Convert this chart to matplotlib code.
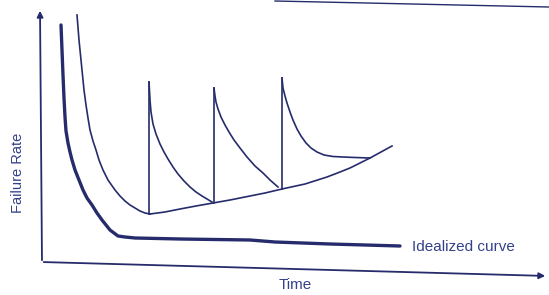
import matplotlib
matplotlib.use("Agg")
from matplotlib import pyplot as plt

# values (time runs left to right, rate grows downward on the page)
ideal_time = [61, 62, 63, 64, 65, 66, 68, 70, 72, 75, 79, 83, 87, 92, 97, 102, 106, 110, 114,
              118, 125, 135, 180, 250, 275, 330, 400]
ideal_rate = [25, 50, 75, 98, 117, 131, 143, 152, 160, 170, 180, 190, 198, 205, 213, 220, 225, 230, 233,
              236, 237, 238, 239, 240, 242, 244, 246]

early_time = [77, 79, 82, 84, 86, 88, 90, 93, 96, 99, 103, 108, 115, 120, 125, 130, 135, 140, 145, 150]
early_rate = [15, 40, 70, 90, 105, 118, 130, 141, 150, 160, 170, 180, 190, 196, 201, 205, 208, 211, 213, 214]

wear_time = [150, 165, 180, 196, 213, 230, 250, 265, 282, 305, 327, 340, 350, 360, 370, 381, 392]
wear_rate = [214, 212, 209, 206, 203, 200, 196, 193, 189, 184, 177, 172, 168, 163, 158, 152, 146]

spike_time = [149, 214, 282]
spike_base = [214, 203, 189]
spike_top = [82, 88, 78]

decay_time = [
    [149, 150, 151, 153, 156, 160, 164, 168, 173, 178, 184, 190, 196, 202, 207, 212],
    [214, 215, 216, 218, 221, 225, 229, 234, 240, 247, 255, 263, 270, 278],
    [282, 283, 285, 287, 290, 293, 297, 301, 306, 311, 317, 324, 333, 343, 355, 370],
]
decay_rate = [
    [82, 100, 112, 124, 134, 144, 152, 159, 167, 174, 181, 187, 192, 196, 199, 202],
    [88, 96, 102, 109, 117, 125, 132, 140, 148, 157, 166, 173, 180, 187],
    [78, 88, 96, 103, 112, 120, 129, 136, 143, 148, 152, 155, 156.5, 157, 157.5, 158],
]

ink = "#262c6b"
text_ink = "#34418a"

fig = plt.figure(figsize=(5.49, 2.95), dpi=100)
ax = fig.add_axes([0, 0, 1, 1])
ax.set_xlim(0, 549)
ax.set_ylim(295, 0)
ax.axis("off")

# axes with arrow heads
ax.annotate("", xy=(40, 8), xytext=(42, 263),
            arrowprops=dict(arrowstyle="-|>", color=ink, lw=1.3, mutation_scale=9))
ax.annotate("", xy=(548, 276), xytext=(41, 262),
            arrowprops=dict(arrowstyle="-|>", color=ink, lw=1.3, mutation_scale=9))

# page edge from the scan
ax.plot([275, 549], [1, 7], color=ink, lw=1.0)

# idealized curve
ax.plot(ideal_time, ideal_rate, color=ink, lw=2.4, solid_capstyle="round", solid_joinstyle="round")

# actual curve
kw = dict(color=ink, lw=1.2, solid_joinstyle="round")
ax.plot(early_time, early_rate, **kw)
ax.plot(wear_time, wear_rate, **kw)
for t, b, top in zip(spike_time, spike_base, spike_top):
    ax.plot([t, t], [b, top], **kw)
for dt, dr in zip(decay_time, decay_rate):
    ax.plot(dt, dr, **kw)

ax.text(412, 247, "Idealized curve", fontsize=11, family="Liberation Sans",
        color=text_ink, va="center", ha="left")
ax.text(295, 285, "Time", fontsize=11, family="Liberation Sans",
        color=text_ink, va="center", ha="center")
ax.text(18, 173, "Failure Rate", fontsize=10.5, family="Liberation Sans",
        color=text_ink, va="center", ha="center", rotation=90)

fig.savefig("out.png", dpi=100)
